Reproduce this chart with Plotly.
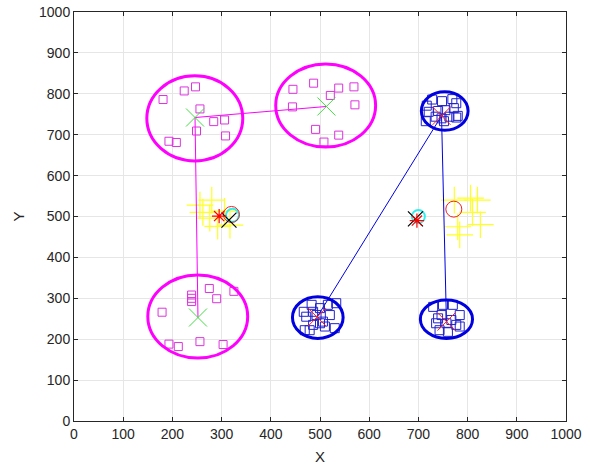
import plotly.graph_objects as go

# ---- data ----
mag1_x = [181, 224, 247, 256, 284, 306, 249, 308, 193, 208]
mag1_y = [786, 807, 817, 763, 732, 736, 709, 697, 684, 681]
mag2_x = [445, 487, 538, 521, 569, 571, 444, 491, 538, 508]
mag2_y = [811, 826, 814, 796, 817, 773, 768, 713, 699, 682]
mag3_x = [275, 239, 239, 239, 290, 325, 179, 193, 212, 256, 303]
mag3_y = [324, 308, 300, 292, 299, 317, 266, 188, 182, 194, 187]

blu4_x = [717, 748, 769, 721, 740, 755, 772, 777, 780, 752, 747, 715, 735, 763, 777, 728]
blu4_y = [771, 782, 787, 756, 758, 760, 765, 742, 746, 733, 740, 733, 744, 744, 777, 786]
blu5_x = [467, 483, 486, 500, 516, 533, 520, 493, 472, 506, 486, 479, 469, 510, 530, 500]
blu5_y = [267, 284, 267, 276, 284, 288, 259, 259, 255, 243, 235, 222, 222, 231, 227, 239]
blu6_x = [730, 750, 770, 747, 784, 736, 757, 777, 784, 743, 760, 740, 767]
blu6_y = [279, 284, 284, 259, 259, 239, 239, 235, 231, 222, 218, 251, 247]

mag_cent_x = [246, 513, 252]
mag_cent_y = [742, 769, 253]
blu_cent_x = [747, 494, 757]
blu_cent_y = [746, 254, 243]

# cluster link paths
mag_link_x = [513, 246, 252]
mag_link_y = [769, 742, 253]
blu_link_x = [494, 747, 757]
blu_link_y = [254, 746, 243]

# ellipse bounds [x0, x1, y0, y1]
mag_ell = [[148, 343, 636, 844], [410, 613, 670, 873], [150, 353, 154, 357]]
blu_ell = [[706, 801, 711, 805], [444, 547, 202, 304], [704, 810, 202, 296]]

yel_x = [256, 280, 306, 276, 292, 317, 262, 773, 806, 820, 810, 780, 826, 784]
yel_y = [528, 540, 513, 496, 476, 479, 510, 540, 545, 540, 510, 475, 480, 455]
redc_x = [320, 772]
redc_y = [505, 518]
blkx_x = [315, 694]
blkx_y = [491, 494]
ast_x = [295, 697]
ast_y = [501, 490]
cyan_x = [322, 700]
cyan_y = [503, 500]

xticks = list(range(0, 1001, 100))
yticks = list(range(0, 1001, 100))

MAG = '#ff00ff'
BLU = '#0000e0'

fig = go.Figure()

def mk(symbol, size, color, width):
    return dict(symbol=symbol, size=size, color=color, line=dict(color=color, width=width))

# yellow pluses
fig.add_trace(go.Scatter(x=yel_x, y=yel_y, mode='markers', marker=mk('cross-thin-open', 19, '#ffff22', 1.2)))

# links
fig.add_trace(go.Scatter(x=mag_link_x, y=mag_link_y, mode='lines', line=dict(color=MAG, width=1)))
fig.add_trace(go.Scatter(x=blu_link_x, y=blu_link_y, mode='lines', line=dict(color=BLU, width=1)))

# squares
for xs, ys in [(mag1_x, mag1_y), (mag2_x, mag2_y), (mag3_x, mag3_y)]:
    fig.add_trace(go.Scatter(x=xs, y=ys, mode='markers', marker=mk('square-open', 8, '#dd33dd', 1)))
for xs, ys in [(blu4_x, blu4_y), (blu5_x, blu5_y), (blu6_x, blu6_y)]:
    fig.add_trace(go.Scatter(x=xs, y=ys, mode='markers', marker=mk('square-open', 9, '#2222cc', 1)))

# centers
fig.add_trace(go.Scatter(x=mag_cent_x, y=mag_cent_y, mode='markers', marker=mk('x-thin-open', 18, '#44dd44', 1)))
fig.add_trace(go.Scatter(x=blu_cent_x, y=blu_cent_y, mode='markers', marker=mk('x-thin-open', 18, '#ff2222', 1)))

# middle markers
fig.add_trace(go.Scatter(x=cyan_x, y=cyan_y, mode='markers', marker=mk('circle-open', 13, '#33eeee', 2)))
fig.add_trace(go.Scatter(x=redc_x, y=redc_y, mode='markers', marker=mk('circle-open', 16, '#ee2222', 1)))
fig.add_trace(go.Scatter(x=blkx_x, y=blkx_y, mode='markers', marker=mk('x-thin-open', 15, 'black', 1.2)))
fig.add_trace(go.Scatter(x=ast_x, y=ast_y, mode='markers', marker=mk('asterisk-open', 12, '#ff0000', 1.2)))

shapes = []
for e in mag_ell:
    shapes.append(dict(type='circle', xref='x', yref='y', x0=e[0], x1=e[1], y0=e[2], y1=e[3],
                       line=dict(color=MAG, width=3)))
for e in blu_ell:
    shapes.append(dict(type='circle', xref='x', yref='y', x0=e[0], x1=e[1], y0=e[2], y1=e[3],
                       line=dict(color=BLU, width=3)))

FONT = 'Liberation Sans, Arial, sans-serif'
axis_common = dict(range=[0, 1000], showgrid=True, gridcolor='#e6e6e6', gridwidth=1,
                   zeroline=False, showline=True, linecolor='#262626', linewidth=1,
                   mirror='ticks', ticks='inside', ticklen=4, tickcolor='#262626', automargin=False,
                   tickfont=dict(family=FONT, size=14, color='#262626'))

fig.update_layout(
    width=590, height=466,
    margin=dict(l=74, r=24, t=12, b=45),
    paper_bgcolor='white', plot_bgcolor='white',
    showlegend=False, hovermode=False,
    shapes=shapes,
    xaxis=dict(axis_common, tickvals=xticks, ticktext=[str(v) for v in xticks],
               title=dict(text='X', font=dict(family=FONT, size=15, color='#262626'), standoff=10)),
    yaxis=dict(axis_common, tickvals=yticks, ticktext=[str(v) for v in yticks],
               title=dict(text='Y', font=dict(family=FONT, size=15, color='#262626'), standoff=10)),
)

fig.write_html('out.html')
